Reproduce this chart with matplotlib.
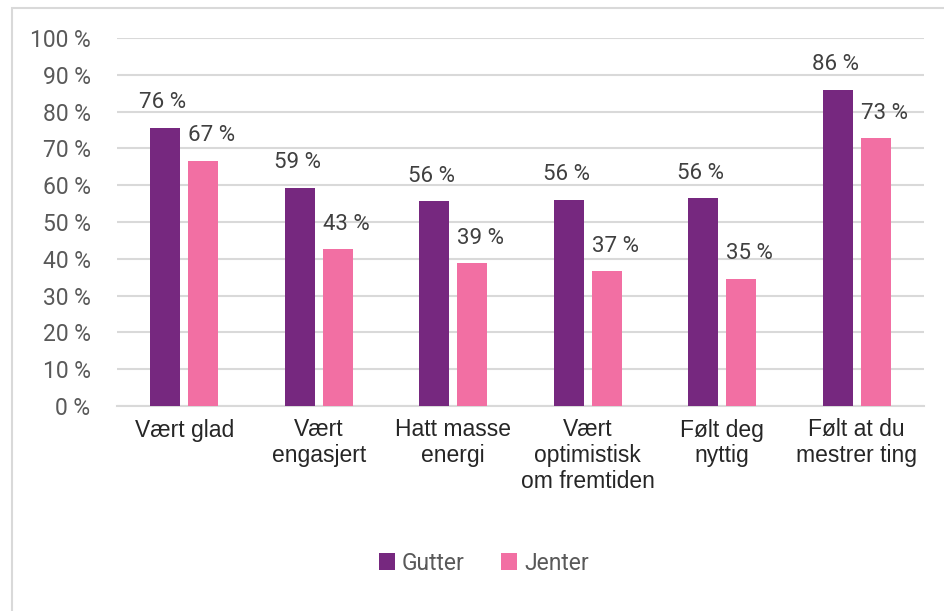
import matplotlib.pyplot as plt
import matplotlib.patches as mpatches
import numpy as np

# data
categories = ["Vært glad", "Vært\nengasjert", "Hatt masse\nenergi",
              "Vært\noptimistisk\nom fremtiden", "Følt deg\nnyttig",
              "Følt at du\nmestrer ting"]
gutter = [75.6, 59.3, 55.6, 56.1, 56.4, 85.9]
jenter = [66.7, 42.6, 38.8, 36.6, 34.6, 72.7]
series_names = ["Gutter", "Jenter"]
colors = ["#76287F", "#F26FA3"]

text_col = "#404040"
fig = plt.figure(figsize=(9.44, 6.11), dpi=100)
ax = fig.add_axes([117 / 944, 1 - 406 / 611, (924 - 117) / 944, (406 - 38) / 611])

# outer chart border
fig.patches.append(mpatches.Rectangle((12 / 944, -0.01), 1.0, 1 - 8 / 611 + 0.01,
                                      transform=fig.transFigure, fill=False,
                                      edgecolor="#d9d9d9", linewidth=1.5))

x = np.arange(len(categories))
w = 0.223
off = 0.141
b1 = ax.bar(x - off, gutter, w, color=colors[0], label=series_names[0], zorder=3)
b2 = ax.bar(x + off, jenter, w, color=colors[1], label=series_names[1], zorder=3)

# data labels (Excel nudges them slightly apart)
for bars, vals, dx in [(b1, gutter, -2), (b2, jenter, 6)]:
    for rect, v in zip(bars, vals):
        ax.annotate(f"{round(v)} %", (rect.get_x() + rect.get_width() / 2, v),
                    xytext=(dx, 10.5), textcoords="offset points",
                    ha="center", va="bottom", fontsize=16, color=text_col,
                    family="Roboto")

ax.set_xlim(-0.5, len(categories) - 0.5)
ax.set_ylim(0, 100)
ax.set_yticks(range(0, 101, 10))
ax.set_yticklabels([f"{t} %" for t in range(0, 101, 10)], family="Roboto",
                   fontsize=16.5, color="#595959")
ax.set_xticks(x)
ax.set_xticklabels(categories, family="Liberation Sans", fontsize=16.5,
                   color="#262626", linespacing=1.15, va="top")
ax.tick_params(axis="y", length=0, pad=19)
ax.tick_params(axis="x", length=0, pad=9)
ax.grid(axis="y", color="#d9d9d9", linewidth=1.5, zorder=0)
for s in ["top", "right", "left"]:
    ax.spines[s].set_visible(False)
ax.spines["bottom"].set_color("#d9d9d9")
ax.spines["bottom"].set_linewidth(1.5)

leg = fig.legend(loc="center", bbox_to_anchor=(484 / 944, 1 - 563 / 611), ncol=2,
                 frameon=False, prop={"family": "Roboto", "size": 16.5},
                 handlelength=0.7, handleheight=0.7, handletextpad=0.3,
                 columnspacing=1.6)
for t in leg.get_texts():
    t.set_color("#595959")

fig.savefig("out.png", dpi=100)
